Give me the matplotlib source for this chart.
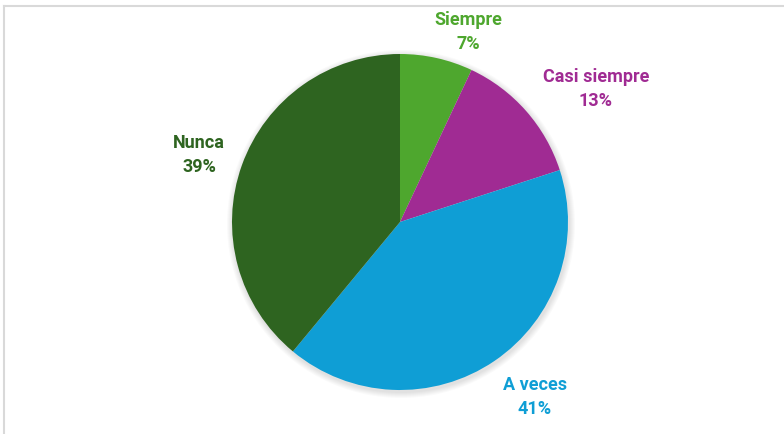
import matplotlib.pyplot as plt
from matplotlib.patches import Circle

plt.rcParams['font.family'] = ['Roboto', 'DejaVu Sans']

labels = ['Siempre', 'Casi siempre', 'A veces', 'Nunca']
values = [7, 13, 41, 39]
colors = ['#4EA72E', '#A02B93', '#0F9ED5', '#2E6420']

fig = plt.figure(figsize=(7.84, 4.35), dpi=100)
ax = fig.add_axes([0, 0, 1, 1])

cx, cy, r = 400, 212, 168

# soft shadow under the pie
for i in range(6):
    ax.add_patch(Circle((cx + 1, cy - 2), r + 1 + i, color='k', alpha=0.018, lw=0, zorder=0))

ax.pie(values, colors=colors, startangle=90, counterclock=False,
       radius=r, center=(cx, cy), frame=True,
       wedgeprops=dict(linewidth=0))
ax.set_xlim(0, 784)
ax.set_ylim(0, 435)
ax.set_aspect('equal')
ax.axis('off')

# label positions (pixel coords from top-left)
label_pos = [(468, 20), (596, 77), (535, 385), (199, 143)]
for lab, v, c, (x, y) in zip(labels, values, colors, label_pos):
    ax.text(x, 435 - y, lab, color=c, fontsize=13, fontweight='bold', ha='center', va='center')
    ax.text(x, 435 - y - 24, f'{v}%', color=c, fontsize=13, fontweight='bold', ha='center', va='center')

# frame lines on top and left
fig.add_artist(plt.Line2D([3.5 / 784, 1], [1 - 6.5 / 435] * 2, color='#d9d9d9', lw=1.5))
fig.add_artist(plt.Line2D([3.5 / 784] * 2, [0, 1 - 6.5 / 435], color='#d9d9d9', lw=1.5))

plt.savefig('out.png', dpi=100)
